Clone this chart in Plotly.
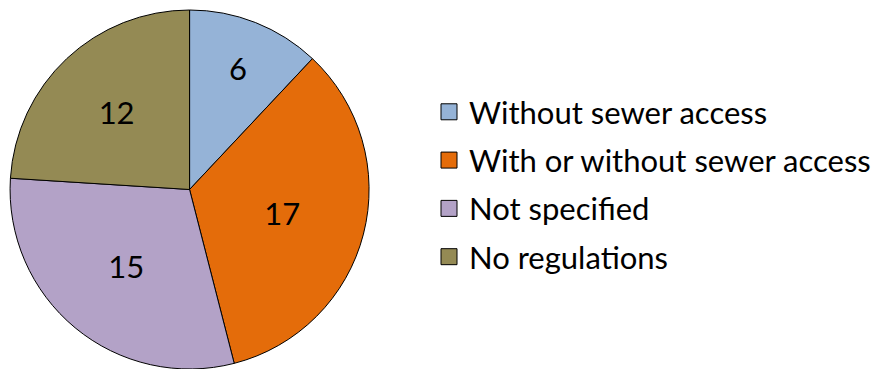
import plotly.graph_objects as go

categories = ["Without sewer access", "With or without sewer access", "Not specified", "No regulations"]
values = [6, 17, 15, 12]
colors = ["#95B3D7", "#E46C0A", "#B3A2C7", "#948A54"]

W, H = 876, 369
cx, R = 190, 180

fig = go.Figure()
fig.add_trace(go.Pie(
    labels=categories,
    values=values,
    sort=False,
    direction="clockwise",
    rotation=0,
    marker=dict(colors=colors, line=dict(color="black", width=1)),
    textinfo="value",
    textposition="inside",
    insidetextorientation="horizontal",
    textfont=dict(family="Lato", size=31, color="black"),
    domain=dict(x=[(cx - R) / W, (cx + R) / W], y=[0, 1]),
    hoverinfo="label+value",
    showlegend=False,
))

# legend entries (square swatches with black outline)
for cat, col in zip(categories, colors):
    fig.add_trace(go.Scatter(
        x=[None], y=[None], mode="markers", name=cat, legendgroup=cat,
        marker=dict(symbol="square", size=16, color=col, line=dict(color="black", width=1)),
        showlegend=True, hoverinfo="skip",
    ))

fig.update_layout(
    width=W, height=H,
    margin=dict(l=0, r=0, t=10, b=0),
    paper_bgcolor="white",
    plot_bgcolor="white",
    xaxis=dict(visible=False),
    yaxis=dict(visible=False),
    showlegend=True,
    legend=dict(
        x=430 / W, y=1 - 179.5 / H, xanchor="left", yanchor="middle",
        font=dict(family="Lato", size=31, color="black"),
        traceorder="grouped",
        tracegroupgap=5,
        itemsizing="trace",
        bgcolor="rgba(0,0,0,0)",
    ),
)

fig.write_html("out.html", config={"displayModeBar": False},
               post_script="document.body.style.margin='0';")
